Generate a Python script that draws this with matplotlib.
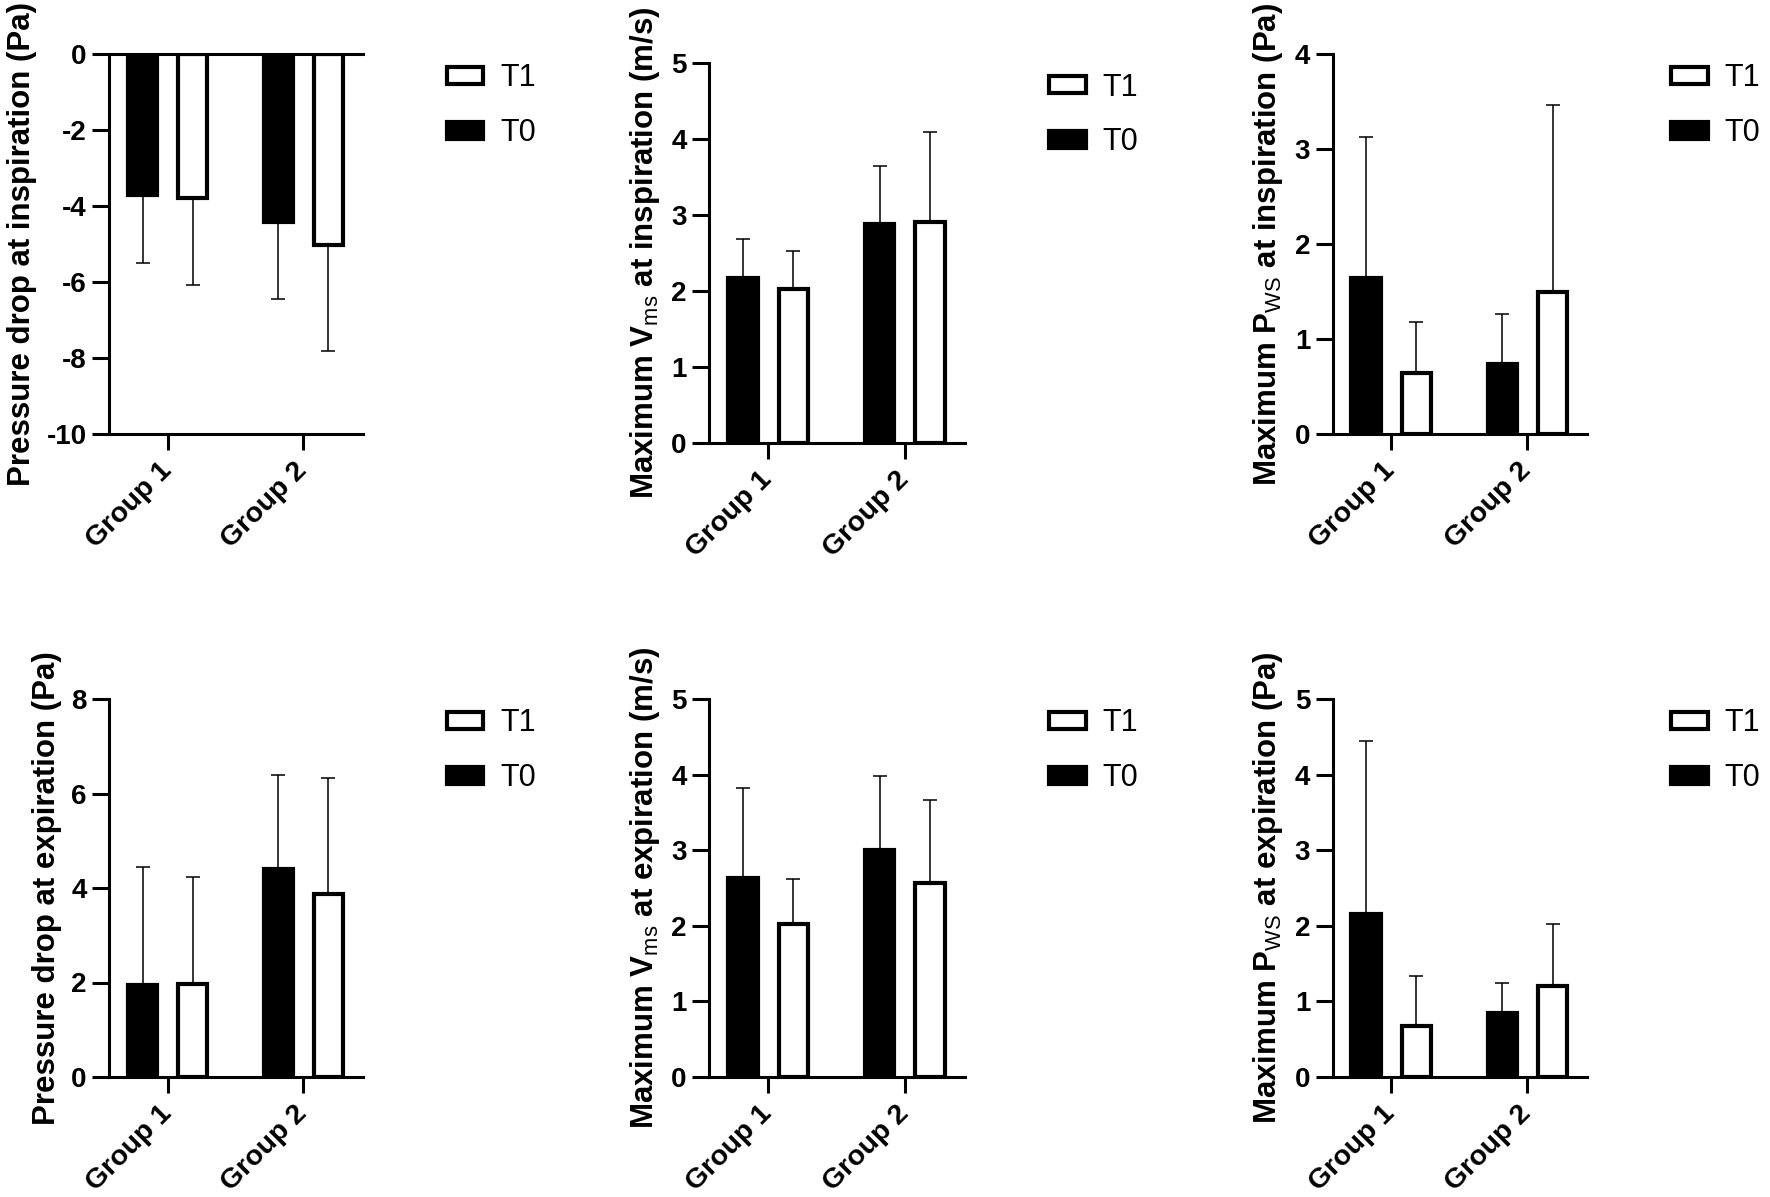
import numpy as np
import matplotlib
matplotlib.use("Agg")
import matplotlib.pyplot as plt
from matplotlib.patches import Patch

plt.rcParams["font.family"] = "Liberation Sans"
plt.rcParams["mathtext.fontset"] = "custom"
plt.rcParams["mathtext.rm"] = "Liberation Sans"
plt.rcParams["mathtext.bf"] = "Liberation Sans:bold"
plt.rcParams["axes.unicode_minus"] = False

# =========================
# DATA
# =========================
GROUPS = ["Group 1", "Group 2"]
SERIES = ["T1", "T0"]

# inspiration
insp_pd_t0 = [-3.71, -4.41]
insp_pd_t0_err = [1.79, 2.05]
insp_pd_t1 = [-3.78, -5.03]
insp_pd_t1_err = [2.30, 2.79]

insp_vms_t0 = [2.17, 2.88]
insp_vms_t0_err = [0.52, 0.76]
insp_vms_t1 = [2.03, 2.91]
insp_vms_t1_err = [0.49, 1.18]

insp_pws_t0 = [1.64, 0.74]
insp_pws_t0_err = [1.49, 0.52]
insp_pws_t1 = [0.64, 1.49]
insp_pws_t1_err = [0.54, 1.97]

# expiration
exp_pd_t0 = [1.94, 4.40]
exp_pd_t0_err = [2.50, 1.99]
exp_pd_t1 = [1.96, 3.88]
exp_pd_t1_err = [2.28, 2.44]

exp_vms_t0 = [2.63, 3.00]
exp_vms_t0_err = [1.19, 0.98]
exp_vms_t1 = [2.02, 2.57]
exp_vms_t1_err = [0.60, 1.09]

exp_pws_t0 = [2.16, 0.85]
exp_pws_t0_err = [2.29, 0.40]
exp_pws_t1 = [0.68, 1.21]
exp_pws_t1_err = [0.65, 0.81]


# =========================
# STYLE
# =========================
W, H, DPI = 1770, 1197, 100
AXIS_LW = 2.2
BAR_LW = 3.0
OFFSET = 0.185
WIDTH = 0.215
LEGEND_X = 1.33

fig = plt.figure(figsize=(W / DPI, H / DPI), dpi=DPI)


def one_sided(values, errors):
    # error bar only away from zero
    low = [e if v < 0 else 0 for v, e in zip(values, errors)]
    high = [0 if v < 0 else e for v, e in zip(values, errors)]
    return [low, high]


def draw_panel(box, t0, t0_err, t1, t1_err, ylim, yticks, ylabel, top_line=False):
    left, top, right, bottom = box
    ax = fig.add_axes([left / W, 1 - bottom / H, (right - left) / W, (bottom - top) / H])
    x = np.arange(len(GROUPS))

    ax.bar(x - OFFSET, t0, WIDTH, color="black", edgecolor="black",
           linewidth=BAR_LW, zorder=2)
    ax.bar(x + OFFSET, t1, WIDTH, color="white", edgecolor="black",
           linewidth=BAR_LW, zorder=2)

    ax.errorbar(x - OFFSET, t0, yerr=one_sided(t0, t0_err), fmt="none",
                ecolor="black", elinewidth=1.1, capsize=4.7, capthick=1.1, zorder=1)
    ax.errorbar(x + OFFSET, t1, yerr=one_sided(t1, t1_err), fmt="none",
                ecolor="black", elinewidth=1.1, capsize=4.7, capthick=1.1, zorder=1)

    ax.set_xlim(-0.43, 1.44)
    ax.set_ylim(ylim)
    ax.set_yticks(yticks)
    ax.set_yticklabels([str(t) for t in yticks], fontweight="bold", fontsize=20)
    ax.set_xticks(x)
    ax.set_xticklabels(GROUPS, rotation=45, ha="right", va="center",
                       rotation_mode="anchor", fontweight="bold", fontsize=20.5)

    ax.spines["right"].set_visible(False)
    ax.spines["top"].set_visible(top_line)
    for side in ["left", "bottom", "top"]:
        ax.spines[side].set_linewidth(AXIS_LW)
    ax.tick_params(axis="y", length=12.2, width=AXIS_LW, pad=4)
    ax.tick_params(axis="x", length=11.5, width=AXIS_LW, pad=12)

    ax.set_ylabel(ylabel, fontsize=22.5, fontweight="bold", labelpad=7)

    handles = [
        Patch(facecolor="white", edgecolor="black", linewidth=BAR_LW, label=SERIES[0]),
        Patch(facecolor="black", edgecolor="black", linewidth=BAR_LW, label=SERIES[1]),
    ]
    ax.legend(handles=handles, loc="upper left", bbox_to_anchor=(LEGEND_X, 0.975),
              frameon=False, fontsize=22, handlelength=1.2, handleheight=0.48,
              handletextpad=0.55, labelspacing=0.8, borderpad=0, borderaxespad=0)
    return ax


# =========================
# PANELS
# =========================
draw_panel((109.3, 54, 363, 434), insp_pd_t0, insp_pd_t0_err, insp_pd_t1, insp_pd_t1_err,
           (-10, 0), [0, -2, -4, -6, -8, -10],
           "Pressure drop at inspiration (Pa)", top_line=True)

draw_panel((709.3, 63, 965, 443), insp_vms_t0, insp_vms_t0_err, insp_vms_t1, insp_vms_t1_err,
           (0, 5), [0, 1, 2, 3, 4, 5],
           r"Maximum V$_\mathrm{ms}$ at inspiration (m/s)")

draw_panel((1332.7, 54, 1587.3, 434), insp_pws_t0, insp_pws_t0_err, insp_pws_t1, insp_pws_t1_err,
           (0, 4), [0, 1, 2, 3, 4],
           r"Maximum P$_\mathrm{WS}$ at inspiration (Pa)")

draw_panel((109.3, 699, 363, 1077), exp_pd_t0, exp_pd_t0_err, exp_pd_t1, exp_pd_t1_err,
           (0, 8), [0, 2, 4, 6, 8],
           "Pressure drop at expiration (Pa)")

draw_panel((709.3, 699, 965, 1077), exp_vms_t0, exp_vms_t0_err, exp_vms_t1, exp_vms_t1_err,
           (0, 5), [0, 1, 2, 3, 4, 5],
           r"Maximum V$_\mathrm{ms}$ at expiration (m/s)")

draw_panel((1332.7, 699, 1587.3, 1077), exp_pws_t0, exp_pws_t0_err, exp_pws_t1, exp_pws_t1_err,
           (0, 5), [0, 1, 2, 3, 4, 5],
           r"Maximum P$_\mathrm{WS}$ at expiration (Pa)")

fig.savefig("out.png", dpi=DPI)
print("[INFO] Saved out.png")
